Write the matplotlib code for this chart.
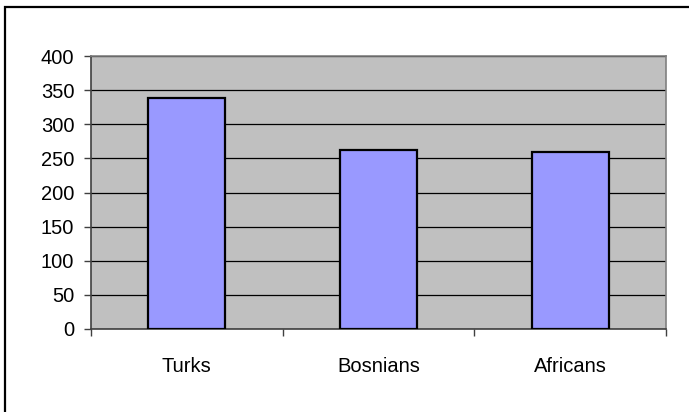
import matplotlib
matplotlib.use("Agg")
import matplotlib.pyplot as plt
from matplotlib.lines import Line2D

categories = ["Turks", "Bosnians", "Africans"]
values = [339, 262, 259]
yticks = [0, 50, 100, 150, 200, 250, 300, 350, 400]

plt.rcParams['font.family'] = ['Liberation Sans', 'DejaVu Sans']

W, H = 689, 412
fig = plt.figure(figsize=(W / 100, H / 100), dpi=100)

# outer chart frame (only left and top edges fall inside the picture)
fx, fy = 4.5 / W, 1 - 6.5 / H
fig.add_artist(Line2D([fx, fx, 1.0], [0.0, fy, fy], transform=fig.transFigure,
                      color='black', linewidth=1.6, solid_joinstyle='miter'))

left, right, top, bottom = 91, 666, 56, 329
ax = fig.add_axes([left / W, 1 - bottom / H, (right - left) / W, (bottom - top) / H])
ax.set_facecolor('#C0C0C0')

x = list(range(len(categories)))
ax.bar(x, values, width=0.4, color='#9999FF', edgecolor='black', linewidth=1.6, zorder=3)

ax.set_xlim(-0.5, len(categories) - 0.5)
ax.set_ylim(0, 400)
ax.set_yticks(yticks)
ax.set_yticklabels([str(v) for v in yticks], fontsize=14.5)
ax.yaxis.grid(True, color='#000000', linewidth=0.9, zorder=1)
ax.set_axisbelow(True)

ax.set_xticks([i - 0.5 for i in range(len(categories) + 1)])
ax.set_xticklabels([])
ax.set_xticks(x, minor=True)
ax.set_xticklabels(categories, minor=True, fontsize=14.5)
ax.tick_params(axis='x', which='minor', length=0, pad=20)
ax.tick_params(axis='x', which='major', length=5, width=1, color='#404040', direction='out')
ax.tick_params(axis='y', length=5, width=1, color='#404040', direction='out', pad=7)

for s in ['top', 'right']:
    ax.spines[s].set_color('#808080')
    ax.spines[s].set_linewidth(1.2)
for s in ['left', 'bottom']:
    ax.spines[s].set_color('#404040')
    ax.spines[s].set_linewidth(1.2)

fig.savefig("out.png", dpi=100)
